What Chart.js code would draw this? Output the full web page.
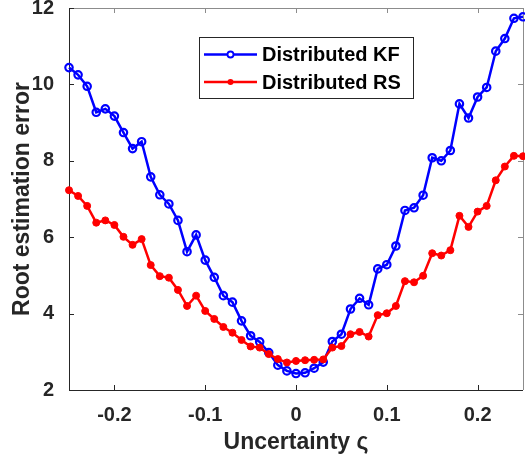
<!DOCTYPE html>
<html>
<head>
<meta charset="utf-8">
<script src="https://cdn.jsdelivr.net/npm/chart.js@4.4.1/dist/chart.umd.min.js"></script>
<style>
  body { margin: 0; background: #fff; }
  canvas { display: block; }
</style>
</head>
<body>
<canvas id="myChart" width="525" height="459"></canvas>
<script>
// uncertainty values on the x axis
var uncertainty = [
  -0.25, -0.24, -0.23, -0.22, -0.21, -0.20, -0.19, -0.18, -0.17, -0.16,
  -0.15, -0.14, -0.13, -0.12, -0.11, -0.10, -0.09, -0.08, -0.07, -0.06,
  -0.05, -0.04, -0.03, -0.02, -0.01, 0.00, 0.01, 0.02, 0.03, 0.04,
  0.05, 0.06, 0.07, 0.08, 0.09, 0.10, 0.11, 0.12, 0.13, 0.14,
  0.15, 0.16, 0.17, 0.18, 0.19, 0.20, 0.21, 0.22, 0.23, 0.24, 0.25
];

var kfError = [
  10.44, 10.25, 9.95, 9.27, 9.36, 9.17, 8.74, 8.32, 8.50, 7.58,
  7.11, 6.87, 6.44, 5.62, 6.06, 5.40, 4.95, 4.47, 4.30, 3.81,
  3.42, 3.26, 2.98, 2.65, 2.50, 2.43, 2.45, 2.57, 2.73, 3.27,
  3.46, 4.12, 4.40, 4.23, 5.17, 5.28, 5.77, 6.70, 6.77, 7.10,
  8.08, 8.00, 8.27, 9.49, 9.12, 9.67, 9.92, 10.87, 11.20, 11.73, 11.77
];

var rsError = [
  7.23, 7.08, 6.82, 6.38, 6.44, 6.32, 6.01, 5.80, 5.95, 5.27,
  4.98, 4.94, 4.62, 4.20, 4.47, 4.07, 3.86, 3.65, 3.50, 3.31,
  3.14, 3.11, 2.94, 2.81, 2.72, 2.76, 2.78, 2.79, 2.80, 3.11,
  3.15, 3.46, 3.52, 3.40, 3.96, 4.01, 4.20, 4.85, 4.82, 4.99,
  5.58, 5.52, 5.66, 6.56, 6.27, 6.67, 6.82, 7.49, 7.85, 8.13, 8.12
];

var seriesNames = ['Distributed KF', 'Distributed RS'];
var xTicks = [-0.2, -0.1, 0, 0.1, 0.2];
var yTicks = [2, 4, 6, 8, 10, 12];

var fontFamily = '"Liberation Sans", Arial, Helvetica, sans-serif';
var axisColor = '#262626';

function toPoints(ys) {
  return ys.map(function(y, i) { return {x: uncertainty[i], y: y}; });
}

// box around the axes with inward tick marks, matlab style
var axesBox = {
  id: 'axesBox',
  beforeDatasetsDraw: function(chart) {
    var ctx = chart.ctx, a = chart.chartArea;
    var xs = chart.scales.x, ys = chart.scales.y;
    var len = 5;
    ctx.save();
    ctx.lineWidth = 1;
    // top / right edges come out lighter
    ctx.strokeStyle = '#8c8c8c';
    ctx.beginPath();
    ctx.moveTo(a.left, Math.round(a.top) + 0.5);
    ctx.lineTo(a.right, Math.round(a.top) + 0.5);
    ctx.moveTo(Math.round(a.right) + 0.5, a.top);
    ctx.lineTo(Math.round(a.right) + 0.5, a.bottom);
    xTicks.forEach(function(v) {
      var px = Math.round(xs.getPixelForValue(v)) + 0.5;
      ctx.moveTo(px, a.top);
      ctx.lineTo(px, a.top + len);
    });
    yTicks.forEach(function(v) {
      var py = Math.round(ys.getPixelForValue(v)) + 0.5;
      ctx.moveTo(a.right, py);
      ctx.lineTo(a.right - len, py);
    });
    ctx.stroke();

    ctx.strokeStyle = axisColor;
    ctx.beginPath();
    ctx.moveTo(Math.round(a.left) + 0.5, a.top);
    ctx.lineTo(Math.round(a.left) + 0.5, a.bottom);
    ctx.moveTo(a.left, Math.round(a.bottom) + 0.5);
    ctx.lineTo(a.right, Math.round(a.bottom) + 0.5);
    xTicks.forEach(function(v) {
      var px = Math.round(xs.getPixelForValue(v)) + 0.5;
      ctx.moveTo(px, a.bottom);
      ctx.lineTo(px, a.bottom - len);
    });
    yTicks.forEach(function(v) {
      var py = Math.round(ys.getPixelForValue(v)) + 0.5;
      ctx.moveTo(a.left, py);
      ctx.lineTo(a.left + len, py);
    });
    ctx.stroke();
    ctx.restore();
  }
};

// legend drawn inside the plot, upper middle
var boxLegend = {
  id: 'boxLegend',
  afterDatasetsDraw: function(chart) {
    var ctx = chart.ctx;
    var bx = 199.5, by = 37.5, bw = 214, bh = 61;
    ctx.save();
    ctx.fillStyle = '#fff';
    ctx.fillRect(bx, by, bw, bh);
    ctx.strokeStyle = axisColor;
    ctx.lineWidth = 1;
    ctx.strokeRect(bx, by, bw, bh);
    ctx.font = 'bold 20px ' + fontFamily;
    ctx.textBaseline = 'middle';
    ctx.textAlign = 'left';
    chart.data.datasets.forEach(function(ds, i) {
      var cy = 54.5 + i * 27.5;
      ctx.strokeStyle = ds.borderColor;
      ctx.lineWidth = 2.5;
      ctx.beginPath();
      ctx.moveTo(204, cy);
      ctx.lineTo(257, cy);
      ctx.stroke();
      ctx.beginPath();
      ctx.arc(230.5, cy, 3, 0, Math.PI * 2);
      if (ds.pointBackgroundColor === ds.borderColor) {
        ctx.fillStyle = ds.borderColor;
        ctx.fill();
      } else {
        ctx.fillStyle = '#fff';
        ctx.fill();
        ctx.lineWidth = 1.8;
        ctx.stroke();
      }
      ctx.fillStyle = '#000';
      ctx.fillText(ds.label, 262, cy + 1);
    });
    ctx.restore();
  }
};

var ctx = document.getElementById('myChart');

new Chart(ctx, {
  type: 'line',
  data: {
    datasets: [{
      label: seriesNames[0],
      data: toPoints(kfError),
      borderColor: '#0000ff',
      borderWidth: 2.5,
      pointRadius: 3.7,
      pointBorderWidth: 2.2,
      pointBorderColor: '#0000ff',
      pointBackgroundColor: 'rgba(0,0,0,0)',
      tension: 0,
      order: 1
    }, {
      label: seriesNames[1],
      data: toPoints(rsError),
      borderColor: '#ff0000',
      borderWidth: 2.5,
      pointRadius: 3.5,
      pointBorderWidth: 1,
      pointBorderColor: '#ff0000',
      pointBackgroundColor: '#ff0000',
      tension: 0,
      order: 0
    }]
  },
  options: {
    responsive: false,
    animation: false,
    devicePixelRatio: 1,
    clip: false,
    layout: {
      autoPadding: false,
      padding: { top: 8, right: 2, left: 0, bottom: 0 }
    },
    plugins: {
      legend: { display: false },
      tooltip: { enabled: false }
    },
    scales: {
      x: {
        type: 'linear',
        min: -0.25,
        max: 0.25,
        afterBuildTicks: function(scale) {
          scale.ticks = xTicks.map(function(v) { return {value: v}; });
        },
        afterFit: function(scale) {
          scale.height = 69;
          scale.paddingLeft = 0;
          scale.paddingRight = 0;
        },
        grid: { display: false },
        border: { display: false },
        ticks: {
          color: axisColor,
          padding: 5,
          maxRotation: 0,
          font: { family: fontFamily, size: 20, weight: 'bold' },
          callback: function(v) { return String(v); }
        },
        title: {
          display: true,
          text: 'Uncertainty \u03c2',
          color: axisColor,
          padding: { top: 0, bottom: 3 },
          font: { family: fontFamily, size: 23, weight: 'bold' }
        }
      },
      y: {
        min: 2,
        max: 12,
        afterBuildTicks: function(scale) {
          scale.ticks = yTicks.map(function(v) { return {value: v}; });
        },
        afterFit: function(scale) {
          scale.width = 69;
          scale.paddingTop = 0;
          scale.paddingBottom = 0;
        },
        grid: { display: false },
        border: { display: false },
        ticks: {
          color: axisColor,
          padding: 7,
          font: { family: fontFamily, size: 20, weight: 'bold' }
        },
        title: {
          display: true,
          text: 'Root estimation error',
          color: axisColor,
          padding: { top: 9, bottom: 0 },
          font: { family: fontFamily, size: 23, weight: 'bold' }
        }
      }
    }
  },
  plugins: [axesBox, boxLegend]
});
</script>
</body>
</html>
